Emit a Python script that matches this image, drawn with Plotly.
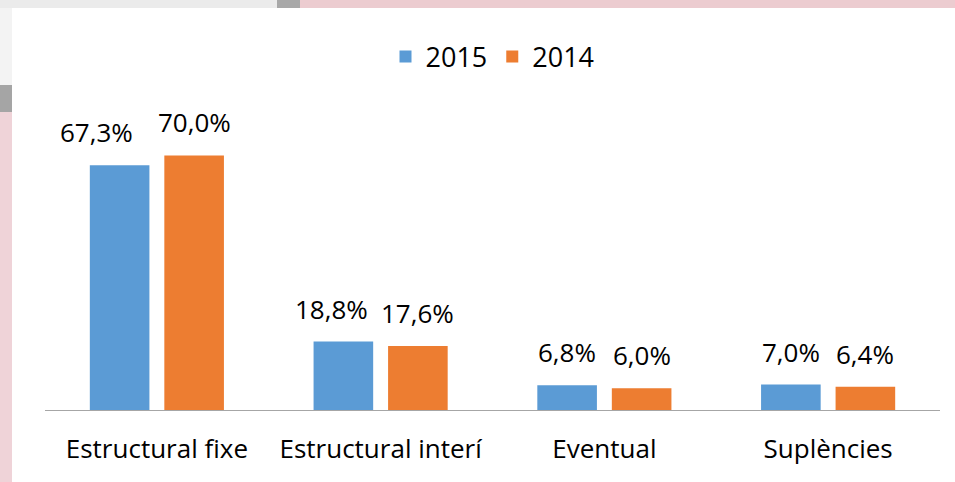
import plotly.graph_objects as go

categories = ["Estructural fixe", "Estructural interí", "Eventual", "Suplències"]
series_names = ["2015", "2014"]
values_2015 = [67.3, 18.8, 6.8, 7.0]
values_2014 = [70.0, 17.6, 6.0, 6.4]

colors = ["#5B9BD5", "#ED7D31"]
FONT = "Open Sans"
FS = 25

def fmt(v):
    return f"{v:.1f}".replace(".", ",") + "%"

fig = go.Figure()
for name, vals, col in zip(series_names, [values_2015, values_2014], colors):
    fig.add_trace(go.Bar(
        name=name, x=categories, y=vals, marker=dict(color=col, line=dict(width=0)),
        hoverinfo="skip",
    ))

W, H = 955, 482
ml, mr, mt, mb = 45, 15, 119, 72
plot_w = W - ml - mr
slot = plot_w / len(categories)
half = slot * (1 - 0.334) / 4
annotations = []
nudges = [[-23, 0], [-12, 0], [0, 0], [0, 0]]
for si, vals in enumerate([values_2015, values_2014]):
    for ci, (c, v) in enumerate(zip(categories, vals)):
        annotations.append(dict(
            x=c, y=v, xref="x", yref="y", text=fmt(v), showarrow=False,
            xshift=(-half if si == 0 else half) + nudges[ci][si], yanchor="bottom", yshift=13,
            font=dict(family=FONT, size=FS + 1, color="#000000"),
        ))

def px(p):
    return (p - ml) / plot_w
def py(q):
    return (H - mb - q) / (H - mt - mb)

shapes = [
    dict(type="rect", xref="paper", yref="paper", x0=px(0), x1=px(277), y0=py(8), y1=py(0),
         fillcolor="#ebebeb", line=dict(width=0), layer="below"),
    dict(type="rect", xref="paper", yref="paper", x0=px(277), x1=px(300), y0=py(8), y1=py(0),
         fillcolor="#a8a8a8", line=dict(width=0), layer="below"),
    dict(type="rect", xref="paper", yref="paper", x0=px(300), x1=px(955), y0=py(8), y1=py(0),
         fillcolor="#ecccd0", line=dict(width=0), layer="below"),
    dict(type="rect", xref="paper", yref="paper", x0=px(0), x1=px(12), y0=py(85), y1=py(8),
         fillcolor="#f3f3f3", line=dict(width=0), layer="below"),
    dict(type="rect", xref="paper", yref="paper", x0=px(0), x1=px(12), y0=py(112), y1=py(85),
         fillcolor="#a5a5a5", line=dict(width=0), layer="below"),
    dict(type="rect", xref="paper", yref="paper", x0=px(0), x1=px(12), y0=py(482), y1=py(112),
         fillcolor="#efd3d8", line=dict(width=0), layer="below"),
]

fig.update_layout(
    width=W, height=H,
    margin=dict(l=ml, r=mr, t=mt, b=mb),
    paper_bgcolor="#ffffff", plot_bgcolor="#ffffff",
    barmode="group", bargap=0.334, bargroupgap=0.2,
    font=dict(family=FONT, size=FS, color="#000000"),
    showlegend=True,
    legend=dict(orientation="h", x=0.5, xanchor="center", y=py(57), yanchor="middle",
                font=dict(family=FONT, size=FS + 2, color="#000000"), itemwidth=30,
                traceorder="normal"),
    xaxis=dict(showline=True, linecolor="#a6a6a6", linewidth=1, ticks="", showgrid=False,
               tickfont=dict(family=FONT, size=FS + 1, color="#000000"), fixedrange=True,
               ticklabelstandoff=16),
    yaxis=dict(range=[0, 80], visible=False, showgrid=False, zeroline=False, fixedrange=True),
    annotations=annotations,
    shapes=shapes,
)

fig.write_html("out.html", config={"displayModeBar": False},
               post_script="document.body.style.margin='0';")
